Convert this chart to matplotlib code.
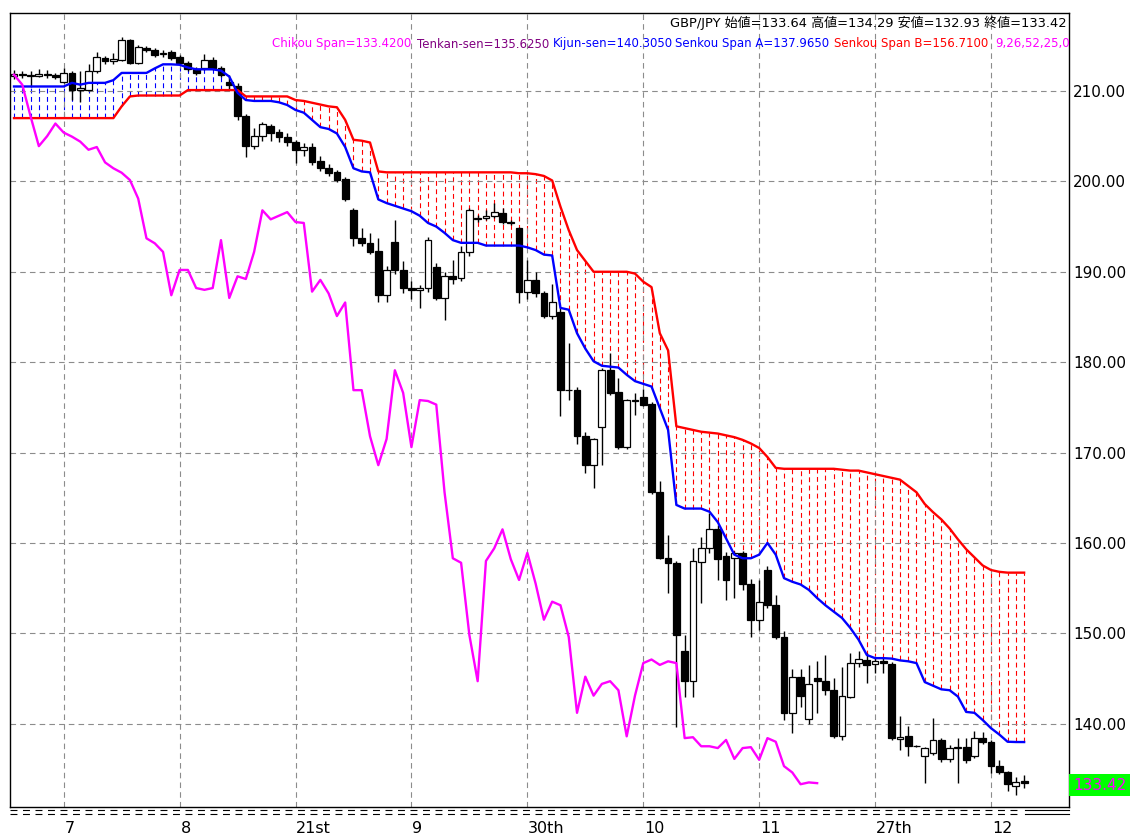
import matplotlib
matplotlib.use('Agg')
import matplotlib.pyplot as plt
import numpy as np

plt.rcParams['lines.scale_dashes'] = False

# GBP/JPY candles, one per bar
opens = [211.7, 211.9, 211.8, 211.7, 211.9, 211.8, 211.0, 212.0, 210.1, 210.1,
         212.25, 213.6, 213.3, 213.4, 215.6, 213.1, 214.8, 214.5, 214.1, 214.3,
         213.8, 213.1, 212.4, 212.5, 213.4, 212.5, 211.0, 210.6, 207.2, 203.9,
         205.0, 206.1, 205.5, 204.95, 204.4, 203.5, 203.8, 202.3, 201.5, 201.07,
         200.3, 196.8, 193.7, 193.15, 192.3, 187.4, 193.3, 190.2, 188.2, 188.0,
         188.2, 190.5, 187.1, 189.5, 189.3, 192.2, 195.9, 195.9, 196.2, 196.5,
         195.5, 194.8, 187.8, 189.1, 187.6, 185.1, 185.6, 176.9, 176.9, 171.8,
         168.6, 172.8, 179.1, 176.7, 170.6, 175.8, 176.1, 175.4, 165.6, 158.3,
         157.8, 148.0, 144.7, 157.9, 159.4, 161.5, 158.6, 158.3, 158.9, 155.5,
         151.5, 157.0, 153.1, 149.6, 141.2, 145.2, 140.5, 145.0, 144.7, 143.7,
         138.6, 143.0, 146.7, 147.0, 146.6, 146.9, 146.6, 138.3, 138.65, 137.5,
         136.4, 136.7, 138.2, 136.1, 137.3, 137.4, 136.4, 138.4, 138.0, 135.3,
         134.6, 133.05, 133.64]
highs = [212.3, 212.2, 212.2, 212.4, 212.3, 212.0, 212.5, 212.2, 212.2, 213.0,
         214.3, 213.9, 214.2, 216.0, 215.8, 215.1, 215.0, 214.8, 214.5, 214.5,
         214.0, 213.3, 212.6, 214.1, 213.8, 212.8, 211.8, 210.9, 207.4, 205.9,
         206.6, 206.4, 205.8, 205.3, 204.6, 204.3, 204.2, 202.8, 201.9, 201.3,
         200.5, 197.0, 194.8, 194.3, 193.7, 190.6, 195.7, 191.2, 189.0, 188.5,
         193.8, 191.0, 190.0, 191.3, 192.8, 197.0, 196.3, 196.8, 197.6, 197.0,
         195.7, 195.0, 191.3, 190.0, 187.9, 188.6, 186.0, 182.1, 177.2, 172.3,
         171.6, 179.3, 181.0, 178.2, 175.9, 176.6, 177.0, 175.6, 166.8, 160.9,
         158.0, 149.8, 159.4, 160.6, 163.3, 162.0, 159.0, 159.1, 159.1, 156.0,
         155.9, 157.5, 154.25, 150.3, 146.1, 146.1, 146.5, 146.9, 147.6, 145.0,
         146.3, 147.8, 148.0, 147.8, 147.4, 147.4, 146.8, 140.8, 139.7, 137.6,
         137.4, 140.6, 138.4, 137.6, 138.4, 138.4, 139.2, 139.1, 138.2, 136.0,
         134.8, 134.15, 134.29]
lows = [211.3, 211.4, 210.4, 211.5, 211.4, 211.3, 210.9, 209.0, 208.8, 210.0,
        212.0, 213.0, 213.0, 213.3, 213.0, 213.0, 214.3, 213.8, 213.8, 213.4,
        213.0, 212.2, 211.8, 212.3, 212.3, 211.5, 210.2, 206.8, 202.7, 203.6,
        204.5, 204.5, 204.4, 203.9, 202.0, 202.8, 201.8, 201.2, 200.6, 199.9,
        197.8, 192.9, 192.9, 192.0, 186.6, 186.6, 189.8, 187.6, 187.0, 186.0,
        187.8, 186.9, 184.7, 188.7, 189.0, 191.7, 195.5, 195.7, 196.0, 195.3,
        195.2, 186.5, 187.0, 187.2, 184.9, 184.8, 174.0, 175.8, 170.9, 167.7,
        166.1, 168.6, 176.4, 170.4, 170.4, 174.2, 175.1, 165.4, 158.2, 154.5,
        139.6, 142.9, 142.9, 153.4, 158.9, 155.9, 153.7, 153.9, 154.8, 149.6,
        150.4, 152.8, 149.4, 140.4, 139.0, 141.8, 140.0, 141.2, 143.2, 138.4,
        138.2, 142.8, 146.3, 144.5, 145.6, 145.6, 138.2, 137.1, 136.4, 137.4,
        133.4, 136.5, 135.8, 135.8, 133.4, 135.7, 136.2, 137.8, 134.5, 134.4,
        132.5, 132.1, 132.93]
closes = [211.9, 211.8, 211.7, 211.9, 211.8, 211.6, 212.0, 210.1, 210.3, 212.25,
          213.8, 213.3, 213.5, 215.6, 213.1, 214.9, 214.5, 214.0, 214.2, 213.6,
          213.1, 212.4, 212.0, 213.4, 212.5, 211.8, 210.7, 207.2, 203.9, 205.0,
          206.4, 205.4, 204.95, 204.4, 203.5, 203.8, 202.1, 201.45, 200.96, 200.15,
          198.1, 193.7, 193.15, 192.2, 187.4, 190.2, 190.2, 188.2, 188.0, 188.2,
          193.5, 187.1, 189.5, 189.2, 192.2, 196.8, 195.8, 196.2, 196.6, 195.5,
          195.4, 187.8, 189.1, 187.6, 185.1, 186.6, 176.9, 176.9, 171.8, 168.6,
          171.5, 179.1, 176.6, 170.6, 175.8, 175.7, 175.3, 165.6, 158.3, 157.8,
          149.8, 144.7, 158.0, 159.4, 161.5, 158.2, 155.9, 158.9, 155.5, 151.5,
          153.5, 153.1, 149.6, 141.2, 145.2, 143.1, 144.4, 144.7, 143.7, 138.6,
          143.1, 146.7, 147.1, 146.5, 146.9, 146.7, 138.4, 138.5, 137.5, 137.5,
          137.3, 138.2, 136.1, 137.3, 137.4, 136.0, 138.4, 138.0, 135.3, 134.6,
          133.3, 133.5, 133.42]

# Ichimoku cloud lines as drawn
senkou_a = [210.5, 210.5, 210.5, 210.5, 210.5, 210.5, 210.5, 210.9, 210.7, 210.9,
            210.9, 210.9, 211.2, 212.0, 212.0, 212.0, 212.0, 212.5, 212.95, 212.95,
            212.9, 212.6, 212.4, 212.4, 212.4, 212.25, 211.6, 209.8, 209.0, 208.9,
            208.9, 208.9, 208.75, 208.45, 207.9, 207.6, 206.8, 206.0, 205.8, 205.3,
            203.8, 201.45, 201.1, 201.0, 198.0, 197.6, 197.3, 197.0, 196.7, 196.2,
            195.4, 195.0, 194.3, 193.5, 193.2, 193.2, 193.2, 192.9, 192.9, 192.9,
            192.9, 192.9, 192.7, 192.4, 191.9, 191.8, 186.0, 185.8, 183.2, 181.5,
            180.1, 179.6, 179.5, 179.4, 178.6, 177.9, 177.6, 177.3, 174.9, 172.5,
            164.2, 163.8, 163.8, 163.8, 163.45, 162.3, 160.5, 158.7, 158.3, 158.3,
            158.7, 160.0, 158.7, 156.1, 155.7, 155.4, 154.8, 153.9, 153.1, 152.4,
            151.7, 150.6, 149.3, 147.6, 147.25, 147.25, 147.2, 147.0, 146.9, 146.7,
            144.6, 144.2, 143.8, 143.7, 143.0, 141.3, 141.2, 140.4, 139.5, 138.8,
            138.0, 137.97, 137.965]
senkou_b = [207.0, 207.0, 207.0, 207.0, 207.0, 207.0, 207.0, 207.0, 207.0, 207.0,
            207.0, 207.0, 207.0, 208.3, 209.4, 209.5, 209.5, 209.5, 209.5, 209.5,
            209.5, 210.1, 210.1, 210.1, 210.1, 210.1, 210.1, 210.1, 209.4, 209.4,
            209.4, 209.4, 209.4, 209.4, 209.0, 208.9, 208.7, 208.5, 208.3, 208.2,
            206.8, 204.6, 204.5, 204.3, 201.1, 201.0, 201.0, 201.0, 201.0, 201.0,
            201.0, 201.0, 201.0, 201.0, 201.0, 201.0, 201.0, 201.0, 201.0, 201.0,
            201.0, 200.9, 200.9, 200.8, 200.6, 200.1, 197.2, 194.6, 192.4, 191.2,
            190.0, 190.0, 190.0, 190.0, 190.0, 189.8, 188.9, 188.3, 183.2, 181.3,
            172.9, 172.7, 172.5, 172.3, 172.2, 172.1, 171.9, 171.7, 171.4, 171.0,
            170.5, 169.5, 168.3, 168.2, 168.2, 168.2, 168.2, 168.2, 168.2, 168.2,
            168.1, 168.0, 168.0, 167.8, 167.6, 167.4, 167.2, 167.0, 166.3, 165.6,
            164.3, 163.4, 162.6, 161.6, 160.4, 159.3, 158.4, 157.5, 157.0, 156.8,
            156.71, 156.71, 156.71]
chikou_shift = 25

price_ticks = [140, 150, 160, 170, 180, 190, 200, 210]
grid_bars = [6, 20, 34, 48, 62, 76, 90, 104, 118]
grid_labels = ['7', '8', '21st', '9', '30th', '10', '11', '27th', '12']

o = np.array(opens); h = np.array(highs); l = np.array(lows); c = np.array(closes)
a = np.array(senkou_a); b = np.array(senkou_b)
x = np.arange(len(c))

W, H = 1132, 836
fig = plt.figure(figsize=(W / 100, H / 100), dpi=100)
ax = fig.add_axes([10 / W, (H - 807) / H, (1069 - 10) / W, (807 - 13) / H])
ax.set_xlim(-0.483, 127.42)
ax.set_ylim(130.78, 218.63)

# grid
ax.set_xticks(grid_bars)
ax.set_yticks(price_ticks)
ax.grid(True, color='#8c8c8c', linestyle=(0, (4, 3)), linewidth=0.8, zorder=0)
ax.tick_params(axis='x', length=0, labelbottom=False)
ax.tick_params(axis='y', length=0, left=False, right=True, labelleft=False,
               labelright=True, labelsize=11, pad=3)
ax.set_yticklabels(['%.2f' % p for p in price_ticks])
for s in ax.spines.values():
    s.set_linewidth(1.0)
    s.set_color('black')

# cloud hatch: one dotted vertical line per bar
up = a >= b
ax.vlines(x[up], b[up], a[up], colors='#0000ff', linewidth=0.8,
          linestyles=[(0, (3.5, 2.5))], zorder=1)
ax.vlines(x[~up], a[~up], b[~up], colors='#ff0000', linewidth=0.8,
          linestyles=[(0, (3.5, 2.5))], zorder=1)

# candles
ax.vlines(x, l, h, colors='black', linewidth=1.0, zorder=3)
body_lo = np.minimum(o, c)
body_h = np.abs(c - o)
bull = c >= o
ax.bar(x[bull], body_h[bull], bottom=body_lo[bull], width=0.82,
       color='white', edgecolor='black', linewidth=0.9, zorder=4)
ax.bar(x[~bull], body_h[~bull], bottom=body_lo[~bull], width=0.82,
       color='black', edgecolor='black', linewidth=0.9, zorder=4)

# lines
ax.plot(x, b, color='#ff0000', linewidth=1.7, zorder=5)
ax.plot(x, a, color='#0000ff', linewidth=1.7, zorder=5)
ax.plot(x[:-chikou_shift], c[chikou_shift:], color='#ff00ff', linewidth=1.7, zorder=5)

# time labels under the grid lines
for gb, gl in zip(grid_bars, grid_labels):
    ax.text(gb + 0.1, -0.027, gl, transform=ax.get_xaxis_transform(),
            ha='left', va='center', fontsize=11.5, clip_on=False)

# bottom separator
for yy in (810, 814):
    fig.add_artist(plt.Line2D([10 / W, 1022 / W], [1 - yy / H, 1 - yy / H],
                              color='black', linewidth=0.8, linestyle=(0, (5, 4))))
    fig.add_artist(plt.Line2D([1025 / W, 1069 / W], [1 - yy / H, 1 - yy / H],
                              color='black', linewidth=0.8))

# last price box
fig.text(1073 / W, 1 - 785 / H, '%.2f' % closes[-1], color='#ff00ff', fontsize=11,
         ha='left', va='center',
         bbox=dict(facecolor='#00ff00', edgecolor='none', pad=2.5))

# header texts
fam = ['DejaVu Sans', 'Noto Sans CJK JP']
fig.text(1066 / W, 1 - 23 / H,
         'GBP/JPY 始値=133.64 高値=134.29 安値=132.93 終値=133.42',
         ha='right', va='center', fontsize=9.4, family=fam)
parts = [(272, 'Chikou Span=133.4200', '#ff00ff'),
         (417, 'Tenkan-sen=135.6250', '#800080'),
         (553, 'Kijun-sen=140.3050', '#0000ff'),
         (675, 'Senkou Span A=137.9650', '#0000ff'),
         (834, 'Senkou Span B=156.7100', '#ff0000'),
         (995, '9,26,52,25,0', '#ff00ff')]
for px, txt, col in parts:
    fig.text(px / W, 1 - 44 / H, txt, color=col, ha='left', va='center', fontsize=8.5)

fig.savefig('out.png', dpi=100, facecolor='white')
